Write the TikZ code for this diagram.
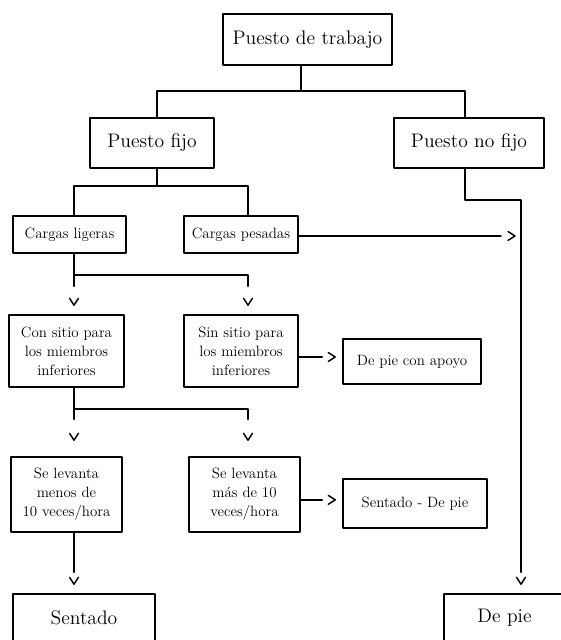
\documentclass[tikz,border=0pt]{standalone}
\usepackage{tikz}

\begin{document}
\begin{tikzpicture}[x=0.75pt,y=-0.75pt,line cap=round,line join=round]
\tikzset{
    box/.style={draw=black, line width=1.1pt, inner sep=0pt, align=center},
    bigbox/.style={box, font=\fontsize{14.7}{17}\selectfont},
    smallbox/.style={box, font=\fontsize{11.2}{14.3}\selectfont},
    wire/.style={line width=1.1pt},
    chevron/.pic={\draw[wire] (-3.3pt,5.2pt) -- (0,0) -- (3.3pt,5.2pt);},
}
\useasboundingbox (0,0) rectangle (561,640);
\clip (0,0) rectangle (561,640);
% boxes
\node[bigbox, minimum width=126.75pt, minimum height=38.25pt] (trabajo) at (307.5,39.5) {Puesto de trabajo};
\node[bigbox, minimum width=93pt, minimum height=37.5pt] (fijo) at (152,143) {Puesto fijo};
\node[bigbox, minimum width=112.5pt, minimum height=37.5pt] (nofijo) at (469,143) {Puesto no fijo};
\node[smallbox, minimum width=84.75pt, minimum height=27.75pt] (ligeras) at (69.5,234.5) {Cargas ligeras};
\node[smallbox, minimum width=85.5pt, minimum height=27.75pt] (pesadas) at (241,234.5) {Cargas pesadas};
\node[smallbox, minimum width=86.25pt, minimum height=54pt] (consitio) at (66.5,351) {Con sitio para\\los miembros\\inferiores};
\node[smallbox, minimum width=85.5pt, minimum height=54pt] (sinsitio) at (241,351) {Sin sitio para\\los miembros\\inferiores};
\node[smallbox, minimum width=103.5pt, minimum height=33.75pt] (apoyo) at (412,361.5) {De pie con apoyo};
\node[smallbox, minimum width=83.25pt, minimum height=56.25pt] (menos) at (66.5,494.5) {Se levanta\\menos de\\10 veces/hora};
\node[smallbox, minimum width=83.25pt, minimum height=56.25pt] (mas) at (244.5,494.5) {Se levanta\\más de 10\\veces/hora};
\node[smallbox, minimum width=108pt, minimum height=36.75pt] (alterna) at (415,503.5) {Sentado - De pie};
\node[bigbox, minimum width=106.5pt, minimum height=36pt] (sentado) at (84,618) {Sentado};
\node[bigbox, minimum width=90.75pt, minimum height=36pt] (depie) at (504.5,618) {De pie};
% junctions
\coordinate (ct) at (301,91);
\coordinate (cf) at (157,186);
\coordinate (cl) at (74,275);
\coordinate (cc) at (74,409);
\coordinate (cn) at (465,200);
\coordinate (cr) at (521,200);
\coordinate (xb) at (248,0);
% first levels
\draw[wire] (trabajo.south -| ct) -- (ct);
\draw[wire] (fijo.north -| cf) |- (ct) -| (nofijo.north -| cn);
\draw[wire] (fijo.south -| cf) -- (cf);
\draw[wire] (ligeras.north -| cl) |- (cf) -| (pesadas.north -| xb);
% cargas ligeras
\draw[wire] (ligeras.south -| cl) -- ([yshift=21pt]consitio.north -| cl);
\draw[wire] (cl) -| ([yshift=21pt]sinsitio.north -| xb);
\pic at ([yshift=6.75pt]consitio.north -| cl) {chevron};
\pic at ([yshift=6.75pt]sinsitio.north -| xb) {chevron};
% con sitio
\draw[wire] (consitio.south -| cc) -- ([yshift=27.75pt]menos.north -| cc);
\draw[wire] (cc) -| ([yshift=27.75pt]mas.north -| xb);
\pic at ([yshift=12pt]menos.north -| cc) {chevron};
\pic at ([yshift=12pt]mas.north -| xb) {chevron};
\draw[wire] (menos.south -| cc) -- ([yshift=15.75pt]sentado.north -| cc);
\pic at ([yshift=6.75pt]sentado.north -| cc) {chevron};
% side arrows
\draw[wire] ([yshift=-4.5pt]sinsitio.east) coordinate (s1) -- ([xshift=-15pt]apoyo.west |- s1);
\pic[rotate=90] at ([xshift=-5.25pt]apoyo.west |- s1) {chevron};
\draw[wire] ([yshift=-4pt]mas.east) coordinate (m1) -- ([xshift=-15pt]alterna.west |- m1);
\pic[rotate=90] at ([xshift=-5.25pt]alterna.west |- m1) {chevron};
\draw[wire] ([yshift=-1.1pt]pesadas.east) coordinate (p1) -- ([xshift=-15pt]p1 -| cr);
\pic[rotate=90] at ([xshift=-4.5pt]p1 -| cr) {chevron};
% puesto no fijo
\draw[wire] (nofijo.south -| cn) -- (cn) -- (cr) -- ([yshift=15.75pt]depie.north -| cr);
\pic at ([yshift=6.75pt]depie.north -| cr) {chevron};
\end{tikzpicture}
\end{document}
